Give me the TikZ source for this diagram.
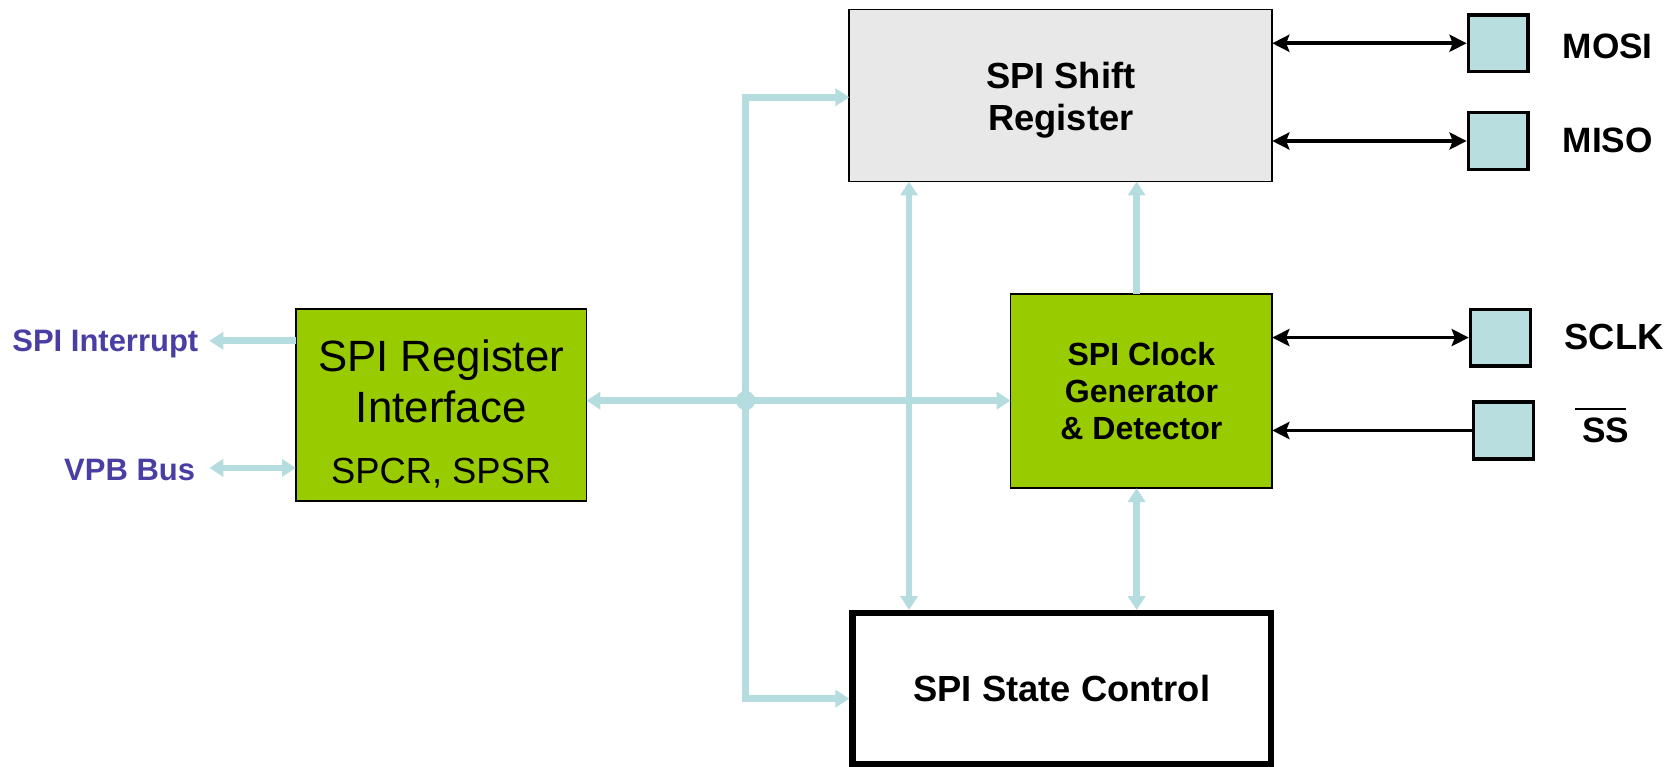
\documentclass[tikz,border=0pt]{standalone}
\usepackage{fontspec}
\setmainfont{Liberation Sans}
\usetikzlibrary{arrows.meta}
\definecolor{blockgreen}{RGB}{153,204,0}
\definecolor{shiftgray}{RGB}{232,232,232}
\definecolor{buscyan}{RGB}{181,221,224}
\definecolor{pinfill}{RGB}{184,222,224}
\definecolor{sigblue}{RGB}{72,62,164}

\begin{document}
\begin{tikzpicture}[x=0.5pt,y=-0.5pt,
  block/.style={draw=black, line width=0.8pt, inner sep=0pt, outer sep=0pt},
  greenblock/.style={block, fill=blockgreen},
  pinbox/.style={draw=black, line width=1.6pt, fill=pinfill, inner sep=0pt,
    outer sep=0.8pt, minimum width=28pt, minimum height=26.5pt},
  bus/.style={draw=buscyan, line width=3.1pt,
    >={Triangle[length=6.5pt,width=8pt]}},
  sig/.style={draw=black, line width=1.8pt,
    >={Stealth[length=8pt,width=8pt,inset=1.5pt]}},
  pinlabel/.style={font=\bfseries\fontsize{16.5}{18}\selectfont, inner sep=0pt},
  extlabel/.style={font=\bfseries\fontsize{14.5}{16}\selectfont, text=sigblue, inner sep=0pt},
  btext/.style={inner sep=0pt}
]
\useasboundingbox (0,0) rectangle (1568,718);

% blocks
\node[greenblock, minimum width=136pt, minimum height=90pt] (reg) at (413,379) {};
\node[btext, font=\fontsize{20.5}{23.5}\selectfont, align=center] (regname) at (413,357) {SPI Register\\Interface};
\node[btext, font=\fontsize{17}{20}\selectfont] (regsub) at (413,443) {SPCR, SPSR};

\node[block, fill=shiftgray, minimum width=198pt, minimum height=80.5pt] (shift) at (993,89.5) {};
\node[btext, font=\bfseries\fontsize{17}{19.5}\selectfont, align=center] (shiftname) at (993,94)
  {SPI Shift\\Register};

\node[greenblock, minimum width=122.5pt, minimum height=91pt,
  font=\bfseries\fontsize{15}{17.5}\selectfont, align=center] (clk) at (1068.5,366)
  {SPI Clock\\Generator\\\& Detector};

\node[draw=black, line width=3pt, inner sep=0pt, outer sep=1.5pt,
  minimum width=196pt, minimum height=70.5pt,
  font=\bfseries\fontsize{17}{19.5}\selectfont] (state) at (994,644.5)
  {SPI State Control};

% pins and their names
\node[pinbox] (mosi) at (1402.5,40.5) {};
\node[pinbox] (miso) at (1402.5,132) {};
\node[pinbox] (sclk) at (1404.5,316) {};
\node[pinbox] (ss)   at (1407.5,403) {};

\node[pinlabel] (mosilbl) at (1505,43) {MOSI};
\node[pinlabel] (misolbl) at (1505,131) {MISO};
\node[pinlabel, font=\bfseries\fontsize{17}{19}\selectfont] (sclklbl) at (1511,315) {SCLK};
\node[pinlabel] (sslbl) at (1503,403) {SS};
\coordinate (barl) at (1474,383);
\coordinate (barr) at (1522,383);
\draw[line width=1pt] (barl) -- (barr);

% external signals
\node[extlabel, anchor=east] (irq) at (186,322) {SPI Interrupt};
\node[extlabel, anchor=east] (vpb) at (183,440) {VPB Bus};

% internal bus
\coordinate (jn)   at (698,375);
\coordinate (jtop) at (698,91);
\coordinate (jbot) at (698,654);
\coordinate (vx)   at (851,375);
\coordinate (vc)   at (1064,375);

\draw[bus,<->] (reg.east |- jn) -- (clk.west |- jn);
\draw[bus,->] (jn) -- (jtop) -- (shift.west |- jtop);
\draw[bus,->] (jn) -- (jbot) -- (state.west |- jbot);
\draw[bus,<->] (shift.south -| vx) -- (state.north -| vx);
\draw[bus,->] (clk.north -| vc) -- (shift.south -| vc);
\draw[bus,<->] (clk.south -| vc) -- (state.north -| vc);
\fill[buscyan] (jn) circle (4.5pt);

\coordinate (irqy) at (0,319);
\coordinate (vpby) at (0,438);
\draw[bus,->] (reg.west |- irqy) -- ([xshift=5pt]irq.east |- irqy);
\draw[bus,<->] ([xshift=6.5pt]vpb.east |- vpby) -- (reg.west |- vpby);

% pin connections
\draw[sig,<->] (shift.east |- mosi) -- (mosi.west);
\draw[sig,<->] (shift.east |- miso) -- (miso.west);
\draw[sig,<->] (clk.east |- sclk) -- (sclk.west);
\draw[sig,->] (ss.west) -- (clk.east |- ss);
\end{tikzpicture}
\end{document}
